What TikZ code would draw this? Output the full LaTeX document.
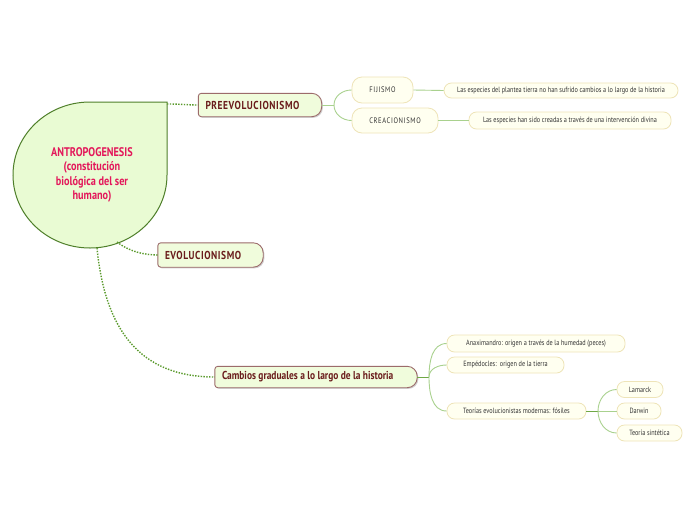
\documentclass[tikz,border=0pt]{standalone}
\usepackage{fontspec}
\setmainfont{PT Sans}
\newfontfamily\nar[FakeStretch=0.82]{PT Sans}
\usetikzlibrary{backgrounds}
\definecolor{rootfill}{HTML}{E9FBD3}
\definecolor{rootline}{HTML}{4F7F2A}
\definecolor{roottext}{HTML}{E3175A}
\definecolor{mainfill}{HTML}{F0FCDC}
\definecolor{mainline}{HTML}{9C6B6B}
\definecolor{maintext}{HTML}{6A1C1C}
\definecolor{pillfill}{HTML}{FFFFF0}
\definecolor{pillline}{HTML}{EEE4B8}
\definecolor{pilltext}{HTML}{333333}
\definecolor{dotgreen}{HTML}{5A9A2C}
\definecolor{lightgreen}{HTML}{A9D18E}
\definecolor{midgreen}{HTML}{6FA845}
\tikzset{
  x=1pt, y=-1pt,
  mainnode/.style={inner ysep=0pt, inner xsep=7pt, align=flush left, text=maintext, font=\nar\bfseries\fontsize{11.5}{13}\selectfont},
  capsnode/.style={mainnode, font=\nar\bfseries\fontsize{11.5}{13}\selectfont\addfontfeature{LetterSpace=5}},
  pill/.style={draw=pillline, fill=pillfill, rounded corners=7.5pt, line width=0.8pt, inner sep=0pt, text=pilltext, font=\nar\fontsize{7.6}{9}\selectfont},
  capspill/.style={pill, font=\nar\fontsize{8}{9}\selectfont\addfontfeature{LetterSpace=8}},
  leaf/.style={pill, font=\nar\fontsize{7.6}{9}\selectfont},
  dotlink/.style={draw=dotgreen, line width=1.4pt, dash pattern=on 1.4pt off 1.4pt},
  thin/.style={draw=lightgreen, line width=0.9pt},
  mid/.style={draw=midgreen, line width=1pt},
}
\newcommand{\mainshape}[1]{%
  \begin{scope}[on background layer]
  \fill[black!18] ([shift={(1.2,1.2)}]#1.south) [rounded corners=3pt] -- ([shift={(1.2,1.2)}]#1.south west) -- ([shift={(1.2,1.2)}]#1.north west) -- ([shift={(1.2,1.2)}]#1.north) [rounded corners=10pt] -- ([shift={(1.2,1.2)}]#1.north east) -- ([shift={(1.2,1.2)}]#1.south east) -- cycle;
  \draw[draw=mainline, fill=mainfill, line width=0.9pt] (#1.south) [rounded corners=3pt] -- (#1.south west) -- (#1.north west) -- (#1.north) [rounded corners=10pt] -- (#1.north east) -- (#1.south east) -- cycle;
  \end{scope}}
\begin{document}
\begin{tikzpicture}
\begin{scope}[on background layer]
\fill[white] (0,0) rectangle (696,520);
\end{scope}
\useasboundingbox (0,0) rectangle (696,520);

% root
\draw[draw=rootline, fill=rootfill, line width=1pt] (167,102) -- (167,175) arc[start angle=0, end angle=270, x radius=77, y radius=73] -- cycle;
\node[inner sep=0pt, align=center, text=roottext, font=\nar\bfseries\fontsize{12.5}{14.5}\selectfont] (root) at (92,175) {ANTROPOGENESIS\\(constitución\\biológica del ser\\humano)};
\coordinate (r1) at (167,104);
\coordinate (r2) at (117,242);
\coordinate (r3) at (97,248);

% main nodes
\node[capsnode, text width=109pt, minimum height=23pt] (pre) at (260,105) {PREEVOLUCIONISMO};
\mainshape{pre}
\node[capsnode, text width=91pt, minimum height=24pt] (evo) at (210.5,255) {EVOLUCIONISMO};
\mainshape{evo}
\node[mainnode, text width=188pt, minimum height=21pt] (cam) at (316,377) {Cambios graduales a lo largo de la historia};
\mainshape{cam}

% dotted links
\draw[dotlink] (r1) .. controls (180,104) and (188,105) .. (pre.west);
\draw[dotlink] (r2) .. controls (130,252) and (145,255) .. (evo.west);
\draw[dotlink] (r3) .. controls (105,330) and (140,377) .. (cam.west);

% preevolucionismo children
\node[capspill, minimum width=61pt, minimum height=26pt, rounded corners=10pt] (fij) at (382.5,90) {FIJISMO};
\node[capspill, minimum width=86pt, minimum height=25pt, rounded corners=10pt] (cre) at (395,120.5) {CREACIONISMO};
\coordinate (bp) at (334,105);
\draw[thin] (pre.east) -- (bp);
\draw[thin] (bp) to[out=90, in=180] (fij.west);
\draw[thin] (bp) to[out=-90, in=180] (cre.west);

\node[leaf, minimum width=234pt, minimum height=15pt] (l1) at (561,90.5) {Las especies del plantea tierra no han sufrido cambios a lo largo de la historia};
\node[leaf, minimum width=202pt, minimum height=17pt] (l2) at (570,120.5) {Las especies han sido creadas a través de una intervención divina};
\draw[thin] (fij.east) -- (l1.west);
\draw[thin] (cre.east) -- (l2.west);

% cambios children
\node[pill, minimum width=178pt, minimum height=17pt] (ana) at (536,343.5) {Anaximandro: origen a través de la humedad (peces)};
\node[pill, minimum width=117pt, minimum height=16pt] (emp) at (505.5,365) {Empédocles:\ \ origen de la tierra};
\node[pill, minimum width=139pt, minimum height=16pt] (teo) at (516.5,411) {Teorías evolucionistas modernas: fósiles};
\coordinate (bc) at (429,377);
\draw[mid] (cam.east) -- (bc);
\draw[thin] (bc) to[out=90, in=180] (ana.west);
\draw[thin] (bc) to[out=90, in=180] (emp.west);
\draw[thin] (bc) to[out=-90, in=180] (teo.west);

% teorias children
\node[leaf, minimum width=46pt, minimum height=16pt] (lam) at (640,389.5) {Lamarck};
\node[leaf, minimum width=44pt, minimum height=16pt] (dar) at (639,411) {Darwin};
\node[leaf, minimum width=65pt, minimum height=16pt] (sin) at (649.5,433) {Teoría sintética};
\coordinate (bt) at (598,411);
\draw[mid] (teo.east) -- (bt);
\draw[thin] (bt) to[out=90, in=180] (lam.west);
\draw[thin] (bt) -- (dar.west);
\draw[thin] (bt) to[out=-90, in=180] (sin.west);
\end{tikzpicture}
\end{document}
